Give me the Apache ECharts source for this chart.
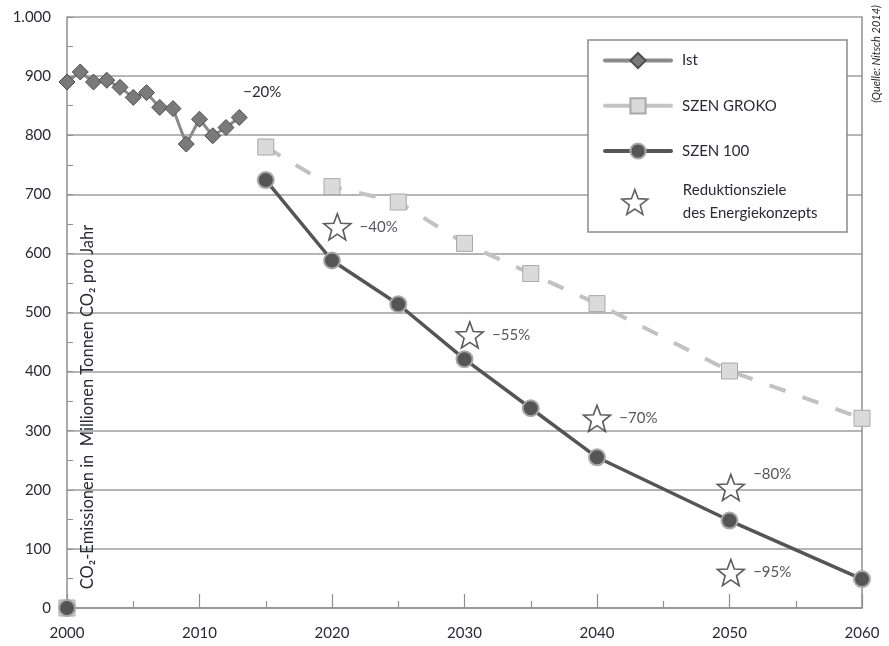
<!DOCTYPE html>
<html><head><meta charset="utf-8">
<script src="https://cdn.jsdelivr.net/npm/echarts@6/dist/echarts.min.js"></script>
<style>html,body{margin:0;padding:0;background:#fff}#c{width:889px;height:646px}</style>
</head><body><div id="c"></div>
<script>
// ---- data ----
const istYears   = [2000,2001,2002,2003,2004,2005,2006,2007,2008,2009,2010,2011,2012,2013];
const istValues  = [890, 907, 890, 893, 881, 864, 872, 847, 845, 785, 827, 799, 813, 830];
const grokoYears = [2000,2015,2020,2025,2030,2035,2040,2050,2060];
const grokoValues= [0,   780, 713, 687, 617, 566, 515, 401, 321];
const s100Years  = [2000,2015,2020,2025,2030,2035,2040,2050,2060];
const s100Values = [0,   724, 588, 514, 421, 338, 255, 148, 49];
const targetYears  = [2020.4, 2030.4, 2040, 2050.1, 2050.1];
const targetValues = [645, 462, 321, 204, 60];
const targetLabels = ['\u221240%', '\u221255%', '\u221270%', '\u221280%', '\u221295%'];
const istLabel = '\u221220%';
const names = ['Ist', 'SZEN GROKO', 'SZEN 100', 'Reduktionsziele\ndes Energiekonzepts'];
const yTitle = 'CO\u2082-Emissionen in  Millionen Tonnen CO\u2082 pro Jahr';
const source = '(Quelle: Nitsch 2014)';

const STAR = 'path://M50,0 L62.34,33.01 L97.55,34.55 L69.97,56.49 L79.39,90.45 L50,71 L20.61,90.45 L30.03,56.49 L2.45,34.55 L37.66,33.01 Z';
const FONT = 'Lato';
const TXT = '#2a2a36';

function withGap(years, vals){
  const out = [];
  for (let i=0;i<years.length;i++){
    if (i===1) out.push([ (years[0]+years[1])/2, '-' ]);
    out.push([years[i], vals[i]]);
  }
  return out;
}

const chart = echarts.init(document.getElementById('c'), null, {renderer:'canvas'});
chart.setOption({
  animation:false,
  textStyle:{fontFamily:FONT},
  grid:{left:67,right:27,top:17,bottom:38},
  xAxis:{
    type:'value', min:2000, max:2060, interval:10,
    axisLine:{lineStyle:{color:'#8f8f8f',width:1.5}},
    axisTick:{show:true,inside:true,length:14,lineStyle:{color:'#8f8f8f',width:1.2}},
    minorTick:{show:true,splitNumber:2,length:7,lineStyle:{color:'#8f8f8f',width:1.2}},
    splitLine:{show:false},
    axisLabel:{color:TXT,fontSize:15,margin:18,fontFamily:FONT,formatter:v=>String(v)}
  },
  yAxis:[{
    type:'value', min:0, max:1000, interval:100,
    axisLine:{show:true,lineStyle:{color:'#8f8f8f',width:1.5}},
    axisTick:{show:true,inside:true,length:6,lineStyle:{color:'#8f8f8f'}},
    minorTick:{show:true,splitNumber:2,length:6,lineStyle:{color:'#8f8f8f'}},
    splitLine:{show:true,lineStyle:{color:'#9d9d9d',width:1.5}},
    axisLabel:{color:TXT,fontSize:15,margin:16,fontFamily:FONT,formatter:v=>v===1000?'1.000':String(v)}
  },{
    type:'value', min:0, max:1000, position:'right',
    axisLine:{show:true,lineStyle:{color:'#8f8f8f',width:1.5}},
    axisTick:{show:false},axisLabel:{show:false},splitLine:{show:false}
  }],
  legend:[{
    data:[
      {name:names[0],lineStyle:{color:'#8a8a8a',width:4,cap:'round'}},
      {name:names[1],lineStyle:{color:'#c4c4c4',width:4,type:'solid',cap:'round'}},
      {name:names[2],lineStyle:{color:'#555555',width:4,cap:'round'}}
    ],
    orient:'vertical', left:598, top:47,
    itemWidth:66, itemHeight:19, itemGap:28,
    textStyle:{color:TXT,fontSize:15,fontFamily:FONT,padding:[0,0,0,6]},
    selectedMode:false
  },{
    data:[{name:names[3],icon:STAR}],
    orient:'vertical', left:616, top:174,
    itemWidth:26, itemHeight:26,
    textStyle:{color:TXT,fontSize:15,fontFamily:FONT,lineHeight:23,padding:[0,0,0,30]},
    itemStyle:{color:'#ffffff',borderColor:'#3c3c3c',borderWidth:1.6},
    selectedMode:false
  }],
  graphic:[
    {type:'rect',z:3,shape:{x:588,y:40,width:259,height:192},style:{fill:'#fff',stroke:'#8a8a8a',lineWidth:1.5}},
    {type:'text',z:5,x:88,y:407,rotation:Math.PI/2,style:{text:yTitle,fill:TXT,font:'16.5px '+FONT,textAlign:'center',textVerticalAlign:'middle'}},
    {type:'text',z:5,x:876,y:54,rotation:Math.PI/2,style:{text:source,fill:TXT,font:'italic 11px '+FONT,textAlign:'center',textVerticalAlign:'middle'}}
  ],
  series:[{
    name:names[0], type:'line',
    data:istYears.map((y,i)=>{
      const d={value:[y,istValues[i]]};
      if(i===istYears.length-1) d.label={show:true,formatter:istLabel,position:'top',offset:[23,-4],color:TXT,fontSize:15,fontFamily:FONT};
      return d;
    }),
    symbol:'diamond', symbolSize:16,
    lineStyle:{color:'#8a8a8a',width:3},
    itemStyle:{color:'#7a7a7a',borderColor:'#4d4d4d',borderWidth:1},
    z:3
  },{
    name:names[1], type:'line',
    data:withGap(grokoYears,grokoValues),
    symbol:'rect', symbolSize:16,
    lineStyle:{color:'#c2c2c2',width:4,type:[17,18]},
    itemStyle:{color:'#dadada',borderColor:'#a9a9a9',borderWidth:1},
    z:3
  },{
    name:names[2], type:'line',
    data:withGap(s100Years,s100Values),
    symbol:'circle', symbolSize:16,
    lineStyle:{color:'#555555',width:3.5},
    itemStyle:{color:'#555555',borderColor:'#a8a8a8',borderWidth:2},
    z:4
  },{
    name:names[3], type:'scatter',
    data:targetYears.map((y,i)=>{
      const d={value:[y,targetValues[i]],label:{show:true,formatter:targetLabels[i]}};
      if(i===3) d.label.offset=[0,-13];
      return d;
    }),
    symbol:STAR, symbolSize:[27,26],
    itemStyle:{color:'#ffffff',borderColor:'#333333',borderWidth:1.6},
    label:{position:'right',distance:8,color:TXT,fontSize:15,fontFamily:FONT},
    z:5
  }]
});
</script></body></html>
